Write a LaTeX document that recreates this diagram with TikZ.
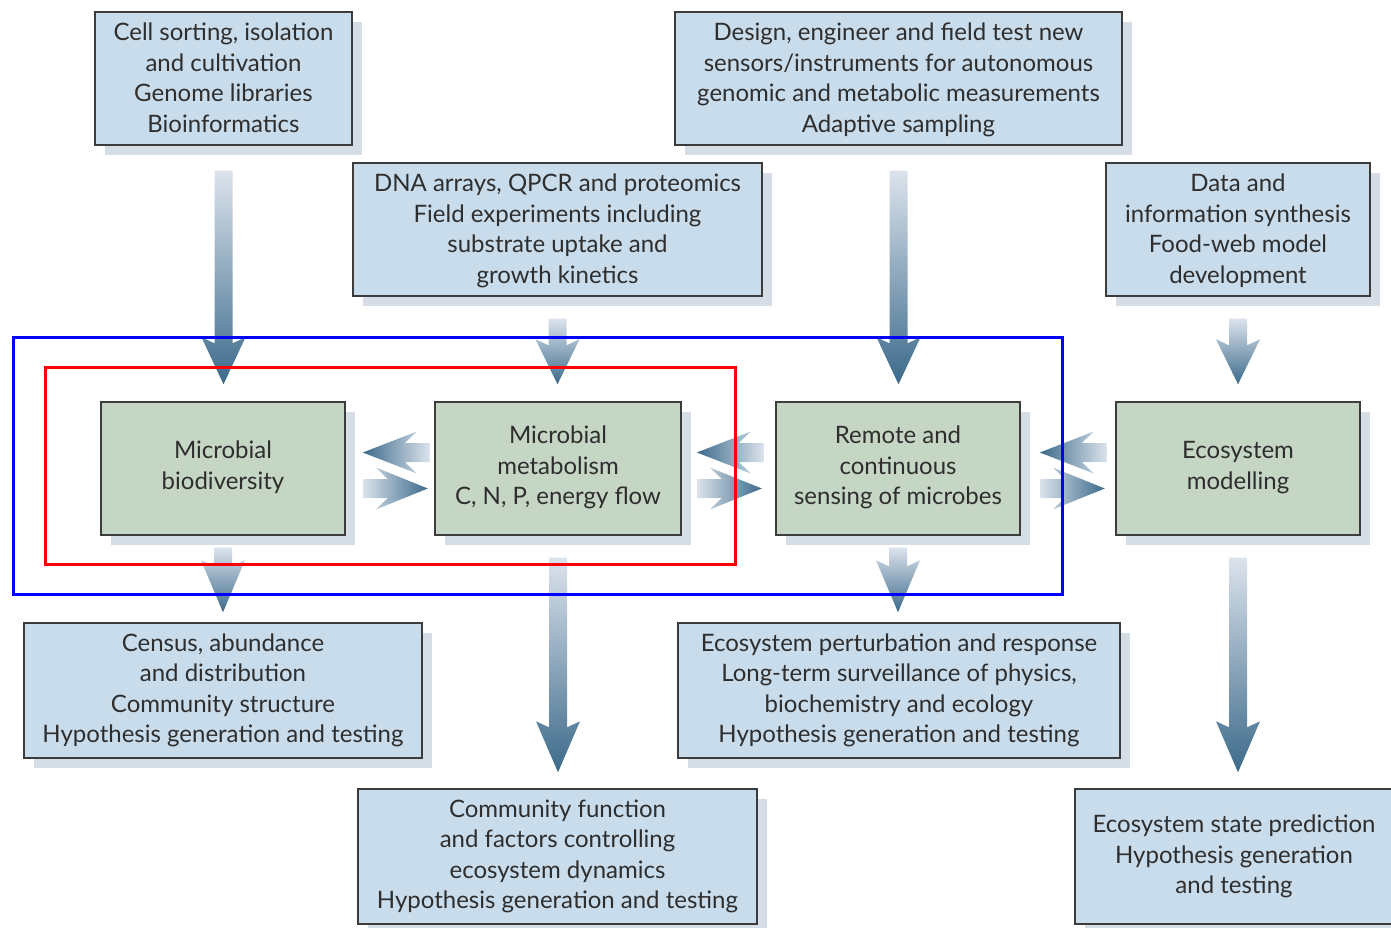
\documentclass[tikz,border=0pt]{standalone}
\usepackage{fontspec}
\setmainfont{Lato}
\usetikzlibrary{calc,shadows}

\definecolor{boxblue}{HTML}{C9DCEB}
\definecolor{boxgreen}{HTML}{C6D6C4}
\definecolor{shadowc}{HTML}{D5DEE7}
\definecolor{edge}{HTML}{3C3C3C}
\definecolor{ink}{HTML}{2E2E2E}
\definecolor{flowdark}{HTML}{3C6A8B}
\definecolor{flowlight}{HTML}{DCE3EC}

\tikzset{
  box/.style={draw=edge, line width=1.4pt, inner sep=0pt, align=center, text=ink,
    font=\fontsize{24}{30.5}\selectfont,
    drop shadow={shadow xshift=10pt, shadow yshift=-10pt, fill=shadowc, opacity=1}},
  task/.style={box, fill=boxblue, minimum height=133pt},
  core/.style={box, fill=boxgreen, minimum height=133pt},
  frame/.style={line width=3pt}
}

% shaded downward arrow: from node, to node, gap below the first, gap above the second, head length
\newcommand\vflow[5]{%
  \shade[top color=flowlight, bottom color=flowdark]
    let \p1=(#1.south), \p2=(#2.north) in
    (\x1-9pt,\y1-#3pt) -- (\x1+9pt,\y1-#3pt)
    -- (\x1+9pt,\y2+#4pt+#5pt-6pt) -- (\x1+22pt,\y2+#4pt+#5pt)
    -- (\x1,\y2+#4pt)
    -- (\x1-22pt,\y2+#4pt+#5pt) -- (\x1-9pt,\y2+#4pt+#5pt-6pt) -- cycle;
}

% pair of shaded horizontal arrows left of a node: node, offset of the pair centre from its west side
\newcommand\hpair[2]{%
  \shade[left color=flowdark, right color=flowlight]
    let \p1=($(#1.west)+(#2,0)$) in
    (\x1-33pt,\y1+16pt) -- (\x1+21pt,\y1+37pt) -- (\x1+9pt,\y1+25.5pt)
    -- (\x1+34pt,\y1+25.5pt) -- (\x1+34pt,\y1+6.5pt) -- (\x1+9pt,\y1+6.5pt)
    -- (\x1+21pt,\y1-5pt) -- cycle;
  \shade[left color=flowlight, right color=flowdark]
    let \p1=($(#1.west)+(#2,0)$) in
    (\x1+32pt,\y1-20pt) -- (\x1-20pt,\y1+1pt) -- (\x1-8pt,\y1-10.5pt)
    -- (\x1-33pt,\y1-10.5pt) -- (\x1-33pt,\y1-29.5pt) -- (\x1-8pt,\y1-29.5pt)
    -- (\x1-20pt,\y1-41pt) -- cycle;
}

\begin{document}
\begin{tikzpicture}[x=1pt,y=-1pt]
\useasboundingbox (0,0) rectangle (1391,928);

% top row: methods
\node[task, minimum width=257pt] (b1) at (223.5,78.5)
  {Cell sorting, isolation\\and cultivation\\Genome libraries\\Bioinformatics\\[-29pt]};
\node[task, minimum width=447pt] (b2) at (898.5,78.5)
  {Design, engineer and field test new\\sensors/instruments for autonomous\\genomic and metabolic measurements\\Adaptive sampling\\[-29pt]};
\node[task, minimum width=409pt] (b3) at (557.5,229.5)
  {DNA arrays, QPCR and proteomics\\Field experiments including\\substrate uptake and\\growth kinetics\\[-29pt]};
\node[task, minimum width=264pt] (b4) at (1238,229.5)
  {Data and\\information synthesis\\Food-web model\\development\\[-29pt]};

% middle row: research themes
\node[core, minimum width=244pt] (g1) at (223,468.5) {Microbial\\biodiversity\\[-24pt]};
\node[core, minimum width=246pt] (g2) at (558,468.5) {Microbial\\metabolism\\C, N, P, energy flow\\[-24pt]};
\node[core, minimum width=244pt] (g3) at (898,468.5) {Remote and\\continuous\\sensing of microbes\\[-24pt]};
\node[core, minimum width=244pt] (g4) at (1238,468.5) {Ecosystem\\modelling\\[-24pt]};

% bottom row: outcomes
\node[task, minimum width=398pt, minimum height=135pt] (c1) at (223,690.5)
  {Census, abundance\\and distribution\\Community structure\\Hypothesis generation and testing};
\node[task, minimum width=399pt, minimum height=135pt] (c2) at (557.5,856.5)
  {Community function\\and factors controlling\\ecosystem dynamics\\Hypothesis generation and testing};
\node[task, minimum width=442pt, minimum height=135pt] (c3) at (899,690.5)
  {Ecosystem perturbation and response\\Long-term surveillance of physics,\\biochemistry and ecology\\Hypothesis generation and testing};
\node[task, minimum width=318pt, minimum height=135pt] (c4) at (1234,856.5)
  {Ecosystem state prediction\\Hypothesis generation\\and testing};

% flows into the themes
\vflow{b1}{g1}{25}{17}{47}
\vflow{b3}{g2}{22}{17}{45}
\vflow{b2}{g3}{25}{17}{47}
\vflow{b4}{g4}{22}{17}{45}

% flows out of the themes
\vflow{g1}{c1}{12}{10}{52}
\vflow{g2}{c2}{22}{16}{51}
\vflow{g3}{c3}{12}{10}{52}
\vflow{g4}{c4}{22}{16}{51}

% exchanges between neighbouring themes
\hpair{g2}{-38.5}
\hpair{g3}{-45.5}
\hpair{g4}{-42.5}

% grouping frames
\draw[frame, draw={rgb,255:red,0;green,0;blue,255}] (13,337) rectangle (1062,594);
\draw[frame, draw={rgb,255:red,255;green,0;blue,0}] (45,367) rectangle (735,564);
\end{tikzpicture}
\end{document}
